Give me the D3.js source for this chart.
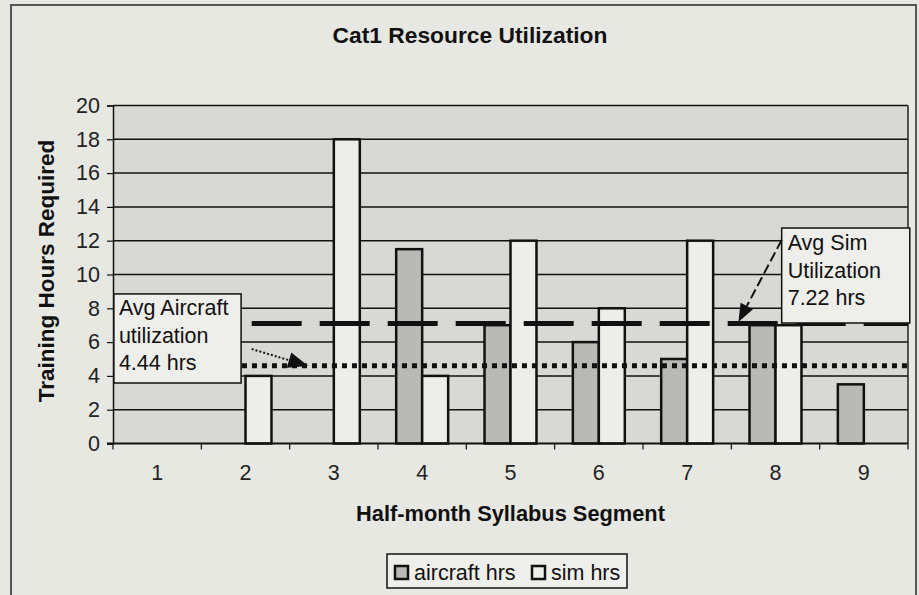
<!DOCTYPE html>
<html><head><meta charset="utf-8">
<script src="https://cdn.jsdelivr.net/npm/d3@7"></script>
<style>
html,body{margin:0;padding:0;background:#e8e8e3;}
svg{display:block;font-family:"Liberation Sans",Arial,Helvetica,sans-serif;}
</style></head>
<body>
<svg id="chart" width="919" height="595"></svg>
<script>
// ---- data ----
const categories = ["1","2","3","4","5","6","7","8","9"];
const aircraftHrs = [0, 0, 0, 11.5, 7, 6, 5, 7, 3.5];
const simHrs = [0, 4, 18, 4, 12, 8, 12, 7, 0];
const seriesNames = ["aircraft hrs", "sim hrs"];
const yTicks = [0, 2, 4, 6, 8, 10, 12, 14, 16, 18, 20];
const avgSimLine = 7.1;       // drawn level of the "Avg Sim" dashed line
const avgAircraftLine = 4.6;  // drawn level of the "Avg Aircraft" dotted line
const noteAircraft = ["Avg Aircraft", "utilization", "4.44 hrs"];
const noteSim = ["Avg Sim", "Utilization", "7.22 hrs"];

// ---- layout ----
const W = 919, H = 595;
const plot = {left: 113, right: 908, top: 105.5, bottom: 443.5};
const colors = {bg: "#e8e8e3", plot: "#d8d8d4", aircraft: "#b9b9b6", sim: "#ededea", note: "#eeeeea"};
const fs = 21.5;

const svg = d3.select("#chart");
svg.append("rect").attr("x", 0).attr("y", 0).attr("width", W).attr("height", H).attr("fill", colors.bg);
// outer chart frame
svg.append("rect").attr("x", 11).attr("y", 5).attr("width", 905).attr("height", 620)
  .attr("fill", "none").attr("stroke", "#555").attr("stroke-width", 2);

const x = d3.scaleBand().domain(categories).range([plot.left, plot.right]).paddingInner(0).paddingOuter(0);
const groupW = x.bandwidth() / 1.7;  // Excel gap width 70%
const xInner = d3.scaleBand().domain(seriesNames).range([0, groupW]);
const xLin = d3.scaleLinear().domain([0.5, categories.length + 0.5]).range([plot.left, plot.right]);
const y = d3.scaleLinear().domain([0, 20]).range([plot.bottom, plot.top]);

// plot area
svg.append("rect").attr("x", plot.left).attr("y", plot.top)
  .attr("width", plot.right - plot.left).attr("height", plot.bottom - plot.top)
  .attr("fill", colors.plot);

// gridlines
svg.append("g").selectAll("line").data(yTicks.filter(d => d > 0)).join("line")
  .attr("x1", plot.left).attr("x2", plot.right)
  .attr("y1", d => y(d)).attr("y2", d => y(d))
  .attr("stroke", "#111").attr("stroke-width", 1.5);
// right border
svg.append("line").attr("x1", plot.right).attr("x2", plot.right).attr("y1", plot.top).attr("y2", plot.bottom)
  .attr("stroke", "#222").attr("stroke-width", 1.5);

// bars
const rows = categories.map((c, i) => ({cat: c, vals: [aircraftHrs[i], simHrs[i]]}));
const g = svg.append("g");
rows.forEach(r => {
  const x0 = x(r.cat) + (x.bandwidth() - groupW) / 2;
  r.vals.forEach((v, j) => {
    if (v <= 0) return;
    g.append("rect")
      .attr("x", x0 + xInner(seriesNames[j]))
      .attr("y", y(v))
      .attr("width", xInner.bandwidth())
      .attr("height", y(0) - y(v))
      .attr("fill", j === 0 ? colors.aircraft : colors.sim)
      .attr("stroke", "#111").attr("stroke-width", 2.5);
  });
});

// axes
const yAxis = d3.axisLeft(y).tickValues(yTicks).tickSize(6).tickPadding(7);
const ya = svg.append("g").attr("transform", `translate(${plot.left},0)`).call(yAxis);
ya.select(".domain").attr("stroke", "#111").attr("stroke-width", 1.5);
ya.selectAll(".tick line").attr("stroke", "#111").attr("stroke-width", 1.2);
ya.selectAll("text").attr("font-size", fs).attr("fill", "#222").attr("font-family", "Liberation Sans, Arial, sans-serif");

const xAxis = d3.axisBottom(x).tickSize(0).tickPadding(21);
const xa = svg.append("g").attr("transform", `translate(0,${plot.bottom})`).call(xAxis);
xa.select(".domain").remove();
xa.selectAll("text").attr("font-size", fs).attr("fill", "#222").attr("font-family", "Liberation Sans, Arial, sans-serif");
// category boundary ticks
svg.append("g").selectAll("line").data(d3.range(categories.length + 1)).join("line")
  .attr("x1", d => xLin(d + 0.5)).attr("x2", d => xLin(d + 0.5))
  .attr("y1", plot.bottom).attr("y2", plot.bottom + 6)
  .attr("stroke", "#111").attr("stroke-width", 1.2);
svg.append("line").attr("x1", plot.left - 6).attr("x2", plot.right).attr("y1", plot.bottom).attr("y2", plot.bottom)
  .attr("stroke", "#111").attr("stroke-width", 2);

// average lines
svg.append("line").attr("x1", xLin(1.96)).attr("x2", plot.right)
  .attr("y1", y(avgAircraftLine)).attr("y2", y(avgAircraftLine))
  .attr("stroke", "#111").attr("stroke-width", 5).attr("stroke-dasharray", "5,5");
svg.append("line").attr("x1", xLin(2.07)).attr("x2", plot.right)
  .attr("y1", y(avgSimLine)).attr("y2", y(avgSimLine))
  .attr("stroke", "#111").attr("stroke-width", 5).attr("stroke-dasharray", "50,18");

// annotation boxes
function note(x1, x2, y1, y2, lines, tx, baselines) {
  svg.append("rect").attr("x", xLin(x1)).attr("y", y(y1))
    .attr("width", xLin(x2) - xLin(x1)).attr("height", y(y2) - y(y1))
    .attr("fill", colors.note).attr("stroke", "#111").attr("stroke-width", 1.5);
  lines.forEach((t, i) => {
    svg.append("text").attr("x", xLin(x1) + tx).attr("y", y(y1) + baselines[i])
      .attr("font-size", fs).attr("fill", "#111").text(t);
  });
}
note(0.51, 1.95, 8.85, 3.58, noteAircraft, 5, [21, 49, 76]);
note(8.07, 9.52, 12.75, 7.13, noteSim, 6, [22, 50, 77]);

// arrows
function arrow(fx, fy, tx, ty, dash, len, half) {
  const x1 = xLin(fx), y1 = y(fy), x2 = xLin(tx), y2 = y(ty);
  const a = Math.atan2(y2 - y1, x2 - x1);
  const bx = x2 - len * Math.cos(a), by = y2 - len * Math.sin(a);
  svg.append("line").attr("x1", x1).attr("y1", y1).attr("x2", bx).attr("y2", by)
    .attr("stroke", "#111").attr("stroke-width", 2).attr("stroke-dasharray", dash);
  const px = -Math.sin(a) * half, py = Math.cos(a) * half;
  svg.append("polygon")
    .attr("points", `${x2},${y2} ${bx + px},${by + py} ${bx - px},${by - py}`)
    .attr("fill", "#111");
}
arrow(2.07, 5.59, 2.71, 4.59, "2,2", 20, 8);
arrow(8.07, 12.04, 7.58, 7.19, "10,4", 18, 7);

// titles
svg.append("text").attr("x", 470).attr("y", 43).attr("text-anchor", "middle")
  .attr("font-size", 22.8).attr("font-weight", "bold").attr("fill", "#111").text("Cat1 Resource Utilization");
svg.append("text").attr("x", (plot.left + plot.right) / 2).attr("y", 521).attr("text-anchor", "middle")
  .attr("font-size", 21.8).attr("font-weight", "bold").attr("fill", "#111").text("Half-month Syllabus Segment");
svg.append("text").attr("transform", `translate(54,271) rotate(-90)`).attr("text-anchor", "middle")
  .attr("font-size", 22.5).attr("font-weight", "bold").attr("fill", "#111").text("Training Hours Required");

// legend
const lg = svg.append("g");
lg.append("rect").attr("x", 387).attr("y", 554).attr("width", 240).attr("height", 34)
  .attr("fill", colors.note).attr("stroke", "#111").attr("stroke-width", 1.5);
const legendItems = [{name: seriesNames[0], fill: colors.aircraft, x: 395}, {name: seriesNames[1], fill: colors.sim, x: 532}];
legendItems.forEach(d => {
  lg.append("rect").attr("x", d.x).attr("y", 566).attr("width", 13).attr("height", 13)
    .attr("fill", d.fill).attr("stroke", "#111").attr("stroke-width", 2.5);
  lg.append("text").attr("x", d.x + 19).attr("y", 580).attr("font-size", fs).attr("fill", "#111").text(d.name);
});
</script>
</body></html>
